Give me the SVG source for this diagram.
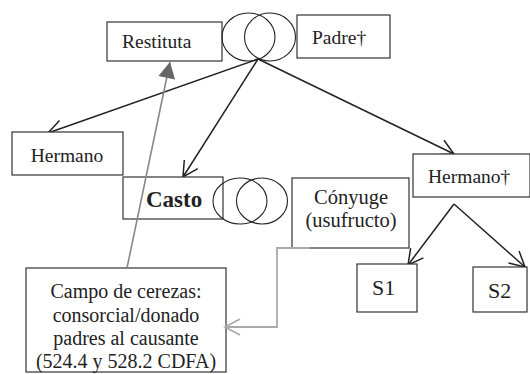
<svg xmlns="http://www.w3.org/2000/svg" width="530" height="374" viewBox="0 0 530 374">
<style>
.box{fill:#fff;stroke:#333;stroke-width:1.2}
.ring{fill:none;stroke:#222;stroke-width:1.1}
.t{font-family:"Liberation Serif","Times New Roman",serif;font-size:19.5px;fill:#222}
.c{text-anchor:middle}
.edge{fill:none;stroke:#222;stroke-width:1.5}
.g1{fill:none;stroke:#888;stroke-width:1.6}
.g2{fill:none;stroke:#aaa;stroke-width:1.8}
</style>
<defs>
<marker id="open" viewBox="0 0 20 20" refX="18" refY="10" markerWidth="20" markerHeight="20" markerUnits="userSpaceOnUse" orient="auto">
<path d="M3,2 L18,10 L3,18" fill="none" stroke="#222" stroke-width="1.5"/>
</marker>
<marker id="opengray" viewBox="0 0 20 20" refX="18" refY="10" markerWidth="20" markerHeight="20" markerUnits="userSpaceOnUse" orient="auto">
<path d="M3,2 L18,10 L3,18" fill="none" stroke="#aaa" stroke-width="1.8"/>
</marker>
<marker id="fill" viewBox="0 0 20 20" refX="18" refY="10" markerWidth="20" markerHeight="20" markerUnits="userSpaceOnUse" orient="auto">
<path d="M2,1.5 L18,10 L2,18.5 Z" fill="#666" stroke="none"/>
</marker>
</defs>
<g id="connectors">
<line class="edge" x1="258" y1="59" x2="48" y2="133" marker-end="url(#open)"/>
<line class="edge" x1="258" y1="59" x2="183" y2="177" marker-end="url(#open)"/>
<line class="edge" x1="258" y1="59" x2="454" y2="154" marker-end="url(#open)"/>
<line class="edge" x1="454" y1="204" x2="408" y2="265" marker-end="url(#open)"/>
<line class="edge" x1="454" y1="204" x2="525" y2="267" marker-end="url(#open)"/>
</g>
<g id="restituta"><rect class="box" x="107" y="22" width="115" height="39"/><text class="t" x="122" y="48">Restituta</text></g>
<g id="padre"><rect class="box" x="297" y="15" width="93" height="43"/><text class="t" x="312" y="44">Padre†</text></g>
<g id="matrimonio-padres"><ellipse class="ring" cx="248.5" cy="37" rx="26.5" ry="24"/><ellipse class="ring" cx="270" cy="37" rx="25.5" ry="24"/></g>
<g id="hermano"><rect class="box" x="12" y="132" width="111" height="43"/><text class="t c" x="67" y="162">Hermano</text></g>
<g id="casto"><rect class="box" x="123" y="177" width="100" height="42"/><text class="t" x="146" y="207" style="font-weight:bold;font-size:23px">Casto</text></g>
<g id="matrimonio-casto"><ellipse class="ring" cx="240" cy="201" rx="27" ry="23"/><ellipse class="ring" cx="262" cy="201" rx="25.5" ry="23"/></g>
<g id="conyuge"><rect class="box" x="292" y="178" width="117" height="70"/><text class="t c" x="351" y="204" style="font-size:20.5px">Cónyuge</text><text class="t c" x="351" y="227" style="font-size:20.5px">(usufructo)</text></g>
<g id="hermano2"><rect class="box" x="413" y="154" width="117" height="43"/><text class="t" x="428" y="183">Hermano†</text></g>
<g id="s1"><rect class="box" x="357" y="264" width="60" height="48"/><text class="t" x="372" y="295" style="font-size:22px">S1</text></g>
<g id="s2"><rect class="box" x="473" y="267" width="54" height="45"/><text class="t" x="488" y="298" style="font-size:22px">S2</text></g>
<g id="campo"><rect class="box" x="26" y="268" width="200" height="104"/>
<text class="t c" x="126" y="298" style="font-size:20px">Campo de cerezas:</text>
<text class="t c" x="126" y="322" style="font-size:20px">consorcial/donado</text>
<text class="t c" x="126" y="345" style="font-size:20px">padres al causante</text>
<text class="t c" x="126" y="368" style="font-size:20px">(524.4 y 528.2 CDFA)</text></g>
<g id="connectors-gray">
<line class="g1" x1="127" y1="268" x2="170" y2="62" marker-end="url(#fill)"/>
<polyline class="g2" points="310,248 277,248 277,327 225,327" marker-end="url(#opengray)"/>
</g>
</svg>
